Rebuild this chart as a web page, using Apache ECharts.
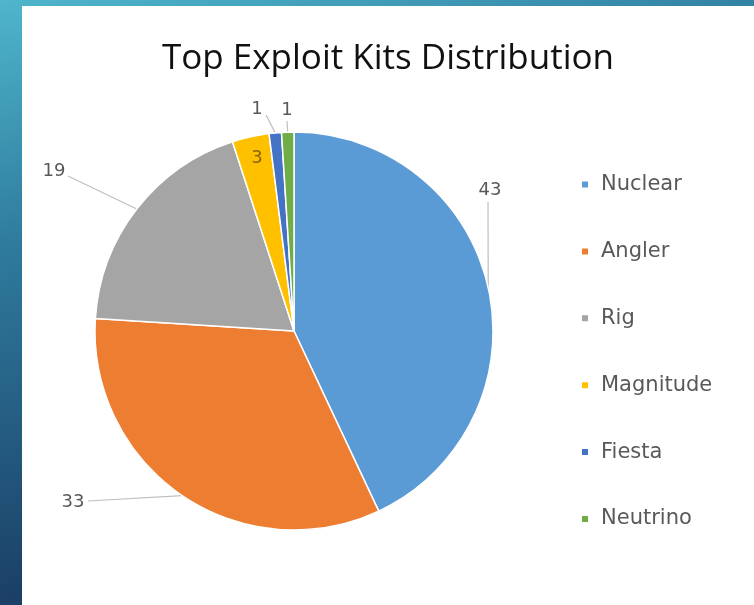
<!DOCTYPE html>
<html>
<head>
<meta charset="utf-8">
<script src="https://cdn.jsdelivr.net/npm/echarts@6/dist/echarts.min.js"></script>
<style>html,body{margin:0;padding:0;background:#fff}#c{width:754px;height:605px}</style>
</head>
<body>
<div id="c"></div>
<script>
const titleText = 'Top Exploit Kits Distribution';
const categories = ['Nuclear', 'Angler', 'Rig', 'Magnitude', 'Fiesta', 'Neutrino'];
const values = [43, 33, 19, 3, 1, 1];
const colors = ['#5B9BD5', '#ED7D31', '#A5A5A5', '#FFC000', '#4472C4', '#70AD47'];

// label placement (label centre, and where the leader line ends)
const labelPos = [[490, 190], [73, 502], [54, 171], [257, 158], [257, 109], [287, 110]];
const lineEnd = [[488, 202], [88, 501], [68, 176], null, [266, 115], [287, 121]];

const chart = echarts.init(document.getElementById('c'), null, {renderer: 'canvas'});
const data = categories.map((n, i) => {
  const d = {name: n, value: values[i], itemStyle: {color: colors[i]}};
  if (n === 'Magnitude') {
    d.label = {position: 'inside', color: '#8a6400'};
    d.labelLine = {show: false};
  }
  return d;
});

chart.setOption({
  animation: false,
  graphic: [
    {type: 'rect', z: -10, shape: {x: 0, y: 0, width: 754, height: 605},
     style: {fill: new echarts.graphic.LinearGradient(0, 0, 0.209, 0.927, [
       {offset: 0, color: '#4fb6cc'}, {offset: 0.4, color: '#2f7c9e'}, {offset: 1, color: '#1b3f66'}])}},
    {type: 'rect', z: -9, shape: {x: 22, y: 6, width: 732, height: 599}, style: {fill: '#ffffff'}}
  ],
  title: {
    text: titleText, left: 383, top: 37, textAlign: 'center',
    textStyle: {fontFamily: 'Open Sans', fontSize: 35, fontWeight: 'normal', color: '#111111'}
  },
  legend: {
    orient: 'vertical', left: 580, top: 174, itemGap: 45.9, padding: 0,
    itemWidth: 8, itemHeight: 8, icon: 'rect',
    textStyle: {fontFamily: 'DejaVu Sans', fontSize: 21, color: '#595959', lineHeight: 20, padding: [0, 0, 0, 7]},
    data: categories
  },
  series: [{
    type: 'pie', center: [294, 331], radius: 199, startAngle: 90, clockwise: true,
    itemStyle: {borderColor: '#ffffff', borderWidth: 1.5},
    label: {show: true, formatter: '{c}', fontFamily: 'DejaVu Sans', fontSize: 18, color: '#595959'},
    labelLine: {show: true, lineStyle: {color: '#bfbfbf', width: 1.2}},
    labelLayout: function (p) {
      const i = p.dataIndex;
      const pos = labelPos[i];
      if (!pos) return {};
      const res = {x: pos[0], y: pos[1], align: 'center', verticalAlign: 'middle'};
      if (p.labelLinePoints && lineEnd[i]) {
        const e = p.labelLinePoints[0];
        res.labelLinePoints = [e, lineEnd[i], lineEnd[i]];
      }
      return res;
    },
    data: data
  }]
});
</script>
</body>
</html>
